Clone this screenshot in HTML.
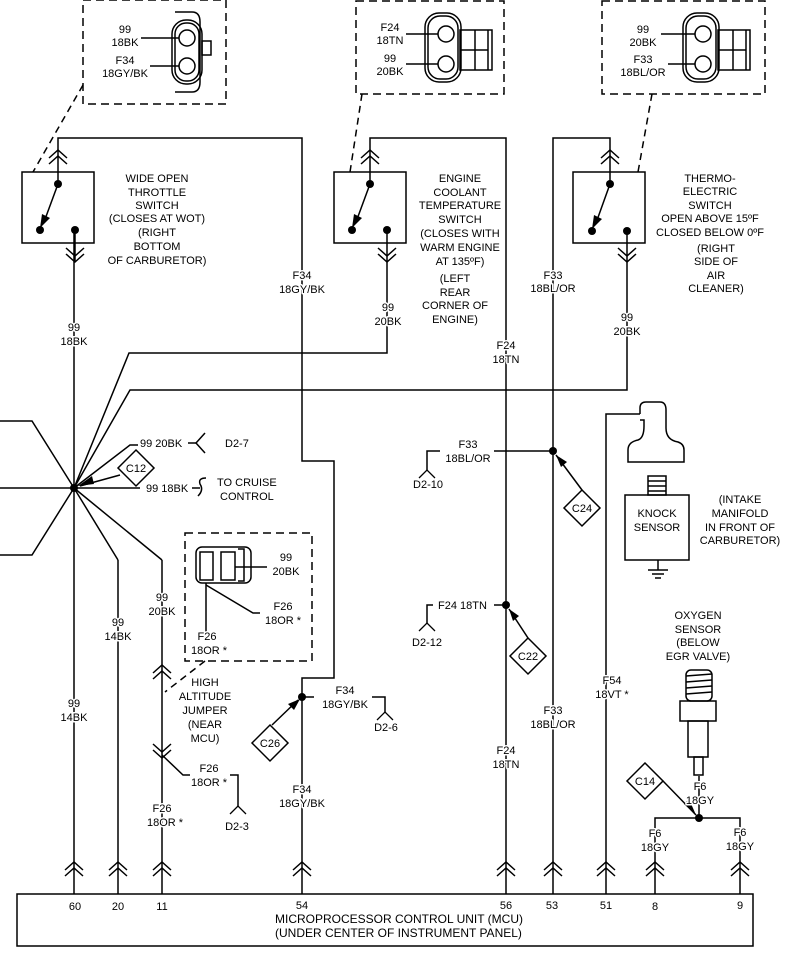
<!DOCTYPE html>
<html><head><meta charset="utf-8"><style>
body{margin:0;background:#fff}
svg text{font-family:"Liberation Sans",sans-serif;font-size:11px;fill:#000;stroke:#fff;stroke-width:3px;paint-order:stroke;stroke-linejoin:round}
</style></head><body>
<svg width="792" height="950" viewBox="0 0 792 950" xmlns="http://www.w3.org/2000/svg">
<defs>
<g id="up" fill="none" stroke="#000" stroke-width="1.5"><polyline points="-9,8 0,0 9,8"/><polyline points="-9,14 0,6 9,14"/></g>
<g id="dn" fill="none" stroke="#000" stroke-width="1.5"><polyline points="-9,-8 0,0 9,-8"/><polyline points="-9,-14 0,-6 9,-14"/></g>
<g id="Y" fill="none" stroke="#000" stroke-width="1.3"><polyline points="-8,8 0,0 8,8"/></g>
</defs>
<g fill="none" stroke="#000" stroke-width="1.5">
<rect x="17" y="894" width="736" height="52"/>
<line x1="74" y1="230" x2="74" y2="894"/>
<line x1="118" y1="560" x2="118" y2="894"/>
<line x1="162" y1="560" x2="162" y2="894"/>
<polyline points="58,184 58,138 302,138 302,461 334,461 334,678 302,678 302,894"/>
<polyline points="370,184 370,138 506,138 506,894"/>
<polyline points="610,184 610,138 553,138 553,894"/>
<polyline points="606,894 606,414 640,414"/>
<polyline points="655,894 655,818 740,818 740,894"/>
<line x1="699" y1="818" x2="699" y2="776"/>
<rect x="22" y="172" width="72" height="71"/>
<rect x="334" y="172" width="72" height="71"/>
<rect x="573" y="172" width="72" height="71"/>
<line x1="58" y1="184" x2="44" y2="222"/>
<line x1="370" y1="184" x2="356" y2="222"/>
<line x1="610" y1="184" x2="596" y2="223"/>
<line x1="75" y1="230" x2="75" y2="262"/>
<polyline points="387,230 387,353 129,353 74,488"/>
<polyline points="627,231 627,390 130,390 74,488"/>
<polyline points="0,421 32,421 74,488"/>
<line x1="0" y1="488" x2="140" y2="488"/>
<polyline points="0,555 32,555 74,488"/>
<polyline points="74,488 130,445 138,445"/>
<polyline points="74,488 118,560"/>
<polyline points="74,488 162,560"/>
<line x1="120" y1="475" x2="80" y2="486"/>
<line x1="188" y1="443" x2="196" y2="443"/>
<polyline points="205,433 196,443 205,453"/>
<line x1="192" y1="488" x2="200" y2="488"/>
<path d="M206,478 q-8,0 -6,6 q4,6 -2,12"/>
<polygon points="136,450 154,468 136,486 118,468"/>
<rect x="185" y="533" width="127" height="128" stroke-dasharray="8,5"/>
<rect x="196" y="547" width="55" height="36" rx="6"/>
<rect x="200" y="552" width="13" height="28"/>
<rect x="221" y="552" width="14" height="28"/>
<path d="M238,549 h6 v32 h-6"/>
<line x1="235" y1="567" x2="267" y2="567"/>
<line x1="206" y1="583" x2="206" y2="640"/>
<polyline points="206,585 253,613 260,613"/>
<line x1="205" y1="661" x2="165" y2="692" stroke-dasharray="7,5"/>
<polyline points="162,755 183,775 190,775"/>
<polyline points="230,775 238,775 238,806"/>
<polyline points="302,697 314,697"/>
<polyline points="372,697 385,697 385,712"/>
<polygon points="270,725 288,743 270,761 252,743"/>
<line x1="272" y1="725" x2="298" y2="700"/>
<polyline points="553,451 494,451"/>
<polyline points="440,451 427,451 427,470"/>
<polygon points="582,490 600,508 582,526 564,508"/>
<line x1="582" y1="490" x2="556" y2="455"/>
<polyline points="506,605 494,605"/>
<polyline points="433,605 427,605 427,623"/>
<polygon points="528,638 546,656 528,674 510,656"/>
<line x1="528" y1="638" x2="509" y2="609"/>
<polygon points="645,763 663,781 645,799 627,781"/>
<line x1="663" y1="781" x2="696" y2="815"/>
<rect x="83" y="0" width="143" height="104" stroke-dasharray="8,5"/>
<line x1="83" y1="85" x2="33" y2="172" stroke-dasharray="7,5"/>
<path d="M175,12 h17 q8,0 8,10 v60 q0,10 -8,10 h-17" />
<rect x="172" y="20" width="30" height="64" rx="14"/>
<rect x="175" y="23" width="24" height="58" rx="11"/>
<circle cx="187" cy="38" r="8"/><circle cx="187" cy="66" r="8"/>
<rect x="202" y="41" width="9" height="14"/>
<line x1="141" y1="38" x2="179" y2="38"/><line x1="150" y1="66" x2="179" y2="66"/>
<rect x="356" y="1" width="148" height="93" stroke-dasharray="8,5"/>
<line x1="362" y1="94" x2="350" y2="172" stroke-dasharray="7,5"/>
<rect x="425" y="13" width="36" height="69" rx="14"/>
<rect x="428" y="16" width="30" height="63" rx="12"/>
<circle cx="446" cy="34" r="8"/><circle cx="446" cy="64" r="8"/>
<rect x="460" y="30" width="32" height="40"/><line x1="475" y1="30" x2="475" y2="70"/><line x1="460" y1="50" x2="488" y2="50"/><line x1="488" y1="30" x2="488" y2="70"/>
<line x1="406" y1="34" x2="438" y2="34"/><line x1="406" y1="64" x2="438" y2="64"/>
<rect x="602" y="1" width="163" height="93" stroke-dasharray="8,5"/>
<line x1="652" y1="94" x2="638" y2="172" stroke-dasharray="7,5"/>
<rect x="683" y="13" width="36" height="69" rx="14"/>
<rect x="686" y="16" width="30" height="63" rx="12"/>
<circle cx="703" cy="34" r="8"/><circle cx="703" cy="64" r="8"/>
<rect x="718" y="30" width="32" height="40"/><line x1="733" y1="30" x2="733" y2="70"/><line x1="718" y1="50" x2="746" y2="50"/><line x1="746" y1="30" x2="746" y2="70"/>
<line x1="661" y1="34" x2="695" y2="34"/><line x1="668" y1="64" x2="695" y2="64"/>
<path d="M640,414 v-6 q0,-6 6,-6 h14 q6,0 6,8 v18 q0,12 12,14 q6,2 6,8 v12 h-56 v-12 q0,-8 10,-10 q6,-2 6,-14 v-6 h-4"/>
<rect x="648" y="476" width="18" height="19"/>
<line x1="648" y1="481" x2="666" y2="481"/><line x1="648" y1="486" x2="666" y2="486"/><line x1="648" y1="491" x2="666" y2="491"/>
<rect x="625" y="495" width="64" height="65"/>
<line x1="658" y1="560" x2="658" y2="570"/><line x1="648" y1="570" x2="668" y2="570"/><line x1="652" y1="574" x2="664" y2="574"/><line x1="655" y1="578" x2="661" y2="578"/>
<rect x="686" y="670" width="26" height="31" rx="5"/>
<line x1="686" y1="676" x2="712" y2="674"/><line x1="686" y1="682" x2="712" y2="680"/><line x1="686" y1="688" x2="712" y2="686"/><line x1="686" y1="694" x2="712" y2="692"/>
<rect x="680" y="701" width="36" height="20"/>
<rect x="688" y="721" width="20" height="36"/>
<rect x="694" y="757" width="9" height="18"/>
</g>
<g fill="#000">
<circle cx="58" cy="184" r="4"/><circle cx="40" cy="230" r="4"/><circle cx="75" cy="230" r="4"/>
<circle cx="370" cy="184" r="4"/><circle cx="352" cy="230" r="4"/><circle cx="387" cy="230" r="4"/>
<circle cx="610" cy="184" r="4"/><circle cx="592" cy="231" r="4"/><circle cx="627" cy="231" r="4"/>
<circle cx="74" cy="488" r="4"/><circle cx="302" cy="697" r="4"/><circle cx="553" cy="451" r="4"/>
<circle cx="506" cy="605" r="4"/><circle cx="699" cy="818" r="4"/>
<polygon points="40,228 42,214 50,218"/><polygon points="352,228 354,214 362,218"/><polygon points="592,229 594,215 602,219"/>
<polygon points="78,486 92,476 94,484"/>
<polygon points="300,699 288,704 294,710"/>
<polygon points="556,455 561,467 567,462"/>
<polygon points="509,609 513,621 519,616"/>
<polygon points="696,815 684,804 689,799"/>
</g>
<use href="#up" x="58" y="150"/><use href="#up" x="370" y="150"/><use href="#up" x="610" y="150"/>
<use href="#dn" x="75" y="262"/><use href="#dn" x="387" y="262"/><use href="#dn" x="627" y="262"/>
<use href="#up" x="74" y="862"/><use href="#up" x="118" y="862"/><use href="#up" x="162" y="862"/><use href="#up" x="302" y="862"/><use href="#up" x="506" y="862"/><use href="#up" x="553" y="862"/><use href="#up" x="606" y="862"/><use href="#up" x="655" y="862"/><use href="#up" x="740" y="862"/>
<use href="#up" x="162" y="665"/><use href="#dn" x="162" y="758"/>
<use href="#Y" x="385" y="712"/><use href="#Y" x="427" y="470"/><use href="#Y" x="427" y="623"/><use href="#Y" x="238" y="806"/>
<g text-anchor="middle">
<text x="125" y="33">99</text><text x="125" y="46">18BK</text><text x="125" y="64">F34</text><text x="125" y="77">18GY/BK</text>
<text x="390" y="31">F24</text><text x="390" y="44">18TN</text><text x="390" y="62">99</text><text x="390" y="75">20BK</text>
<text x="643" y="33">99</text><text x="643" y="46">20BK</text><text x="643" y="63">F33</text><text x="643" y="76">18BL/OR</text>
<text x="157" y="182">WIDE OPEN</text><text x="157" y="196">THROTTLE</text><text x="157" y="209">SWITCH</text><text x="157" y="222">(CLOSES AT WOT)</text><text x="157" y="236">(RIGHT</text><text x="157" y="250">BOTTOM</text><text x="157" y="264">OF CARBURETOR)</text>
<text x="460" y="182">ENGINE</text><text x="460" y="196">COOLANT</text><text x="460" y="209">TEMPERATURE</text><text x="460" y="223">SWITCH</text><text x="460" y="237">(CLOSES WITH</text><text x="460" y="251">WARM ENGINE</text><text x="460" y="265">AT 135ºF)</text><text x="455" y="282">(LEFT</text><text x="455" y="296">REAR</text><text x="455" y="309">CORNER OF</text><text x="455" y="323">ENGINE)</text>
<text x="710" y="182">THERMO-</text><text x="710" y="195">ELECTRIC</text><text x="710" y="209">SWITCH</text><text x="710" y="222">OPEN ABOVE 15ºF</text><text x="710" y="236">CLOSED BELOW 0ºF</text><text x="716" y="252">(RIGHT</text><text x="716" y="265">SIDE OF</text><text x="716" y="279">AIR</text><text x="716" y="292">CLEANER)</text>
<text x="302" y="279">F34</text><text x="302" y="293">18GY/BK</text>
<text x="74" y="331">99</text><text x="74" y="345">18BK</text>
<text x="388" y="311">99</text><text x="388" y="325">20BK</text>
<text x="553" y="279">F33</text><text x="553" y="292">18BL/OR</text>
<text x="627" y="321">99</text><text x="627" y="335">20BK</text>
<text x="506" y="349">F24</text><text x="506" y="363">18TN</text>
<text x="468" y="448">F33</text><text x="468" y="462">18BL/OR</text><text x="428" y="488">D2-10</text>
<text x="657" y="517">KNOCK</text><text x="657" y="531">SENSOR</text>
<text x="740" y="503">(INTAKE</text><text x="740" y="517">MANIFOLD</text><text x="740" y="531">IN FRONT OF</text><text x="740" y="544">CARBURETOR)</text>
<text x="427" y="646">D2-12</text>
<text x="698" y="619">OXYGEN</text><text x="698" y="633">SENSOR</text><text x="698" y="646">(BELOW</text><text x="698" y="660">EGR VALVE)</text>
<text x="612" y="684">F54</text><text x="612" y="698">18VT *</text>
<text x="553" y="714">F33</text><text x="553" y="728">18BL/OR</text>
<text x="506" y="754">F24</text><text x="506" y="768">18TN</text>
<text x="700" y="790">F6</text><text x="700" y="804">18GY</text>
<text x="655" y="837">F6</text><text x="655" y="851">18GY</text>
<text x="740" y="836">F6</text><text x="740" y="850">18GY</text>
<text x="136" y="472">C12</text><text x="270" y="747">C26</text><text x="582" y="512">C24</text><text x="528" y="660">C22</text><text x="645" y="785">C14</text>
<text x="286" y="561">99</text><text x="286" y="575">20BK</text>
<text x="283" y="610">F26</text><text x="283" y="624">18OR *</text>
<text x="207" y="640">F26</text><text x="209" y="654">18OR *</text>
<text x="162" y="601">99</text><text x="162" y="615">20BK</text>
<text x="118" y="626">99</text><text x="118" y="640">14BK</text>
<text x="74" y="707">99</text><text x="74" y="721">14BK</text>
<text x="205" y="686">HIGH</text><text x="205" y="700">ALTITUDE</text><text x="205" y="714">JUMPER</text><text x="205" y="728">(NEAR</text><text x="205" y="742">MCU)</text>
<text x="345" y="694">F34</text><text x="345" y="708">18GY/BK</text><text x="386" y="731">D2-6</text>
<text x="209" y="772">F26</text><text x="209" y="786">18OR *</text><text x="237" y="830">D2-3</text>
<text x="162" y="812">F26</text><text x="165" y="826">18OR *</text>
<text x="302" y="793">F34</text><text x="302" y="807">18GY/BK</text>
<text x="75" y="910">60</text><text x="118" y="910">20</text><text x="162" y="910">11</text><text x="302" y="909">54</text><text x="506" y="909">56</text><text x="552" y="909">53</text><text x="606" y="909">51</text><text x="655" y="910">8</text><text x="740" y="909">9</text>
</g>
<text x="140" y="447">99 20BK</text><text x="225" y="447">D2-7</text>
<text x="146" y="492">99 18BK</text><text x="217" y="486">TO CRUISE</text><text x="220" y="500">CONTROL</text>
<text x="438" y="609">F24 18TN</text>
<text x="275" y="923" style="font-size:12px">MICROPROCESSOR CONTROL UNIT (MCU)</text>
<text x="275" y="937" style="font-size:12px">(UNDER CENTER OF INSTRUMENT PANEL)</text>
</svg>
</body></html>
